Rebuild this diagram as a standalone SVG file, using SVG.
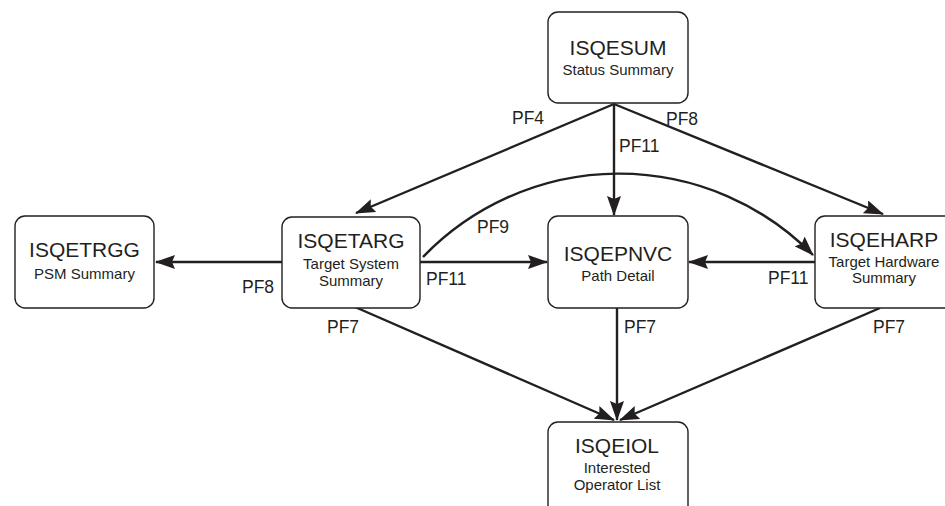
<svg xmlns="http://www.w3.org/2000/svg" width="945" height="506" viewBox="0 0 945 506">
<style>
.box{fill:#ffffff;stroke:#231f20;stroke-width:1.4}
.t{font-family:"Liberation Sans",Arial,sans-serif;fill:#231f20;text-anchor:middle}
.title{font-size:21px}
.sub{font-size:15px}
.lbl{font-family:"Liberation Sans",Arial,sans-serif;fill:#231f20;font-size:17.5px}
.c{fill:none;stroke:#231f20;stroke-width:2.4;marker-end:url(#ah)}
</style>
<defs>
<marker id="ah" viewBox="0 0 20 14" markerWidth="20" markerHeight="14" refX="19" refY="7" orient="auto" markerUnits="userSpaceOnUse">
<path d="M0,0 L20,7 L0,14 L3,7 z" fill="#231f20"/>
</marker>
</defs>
<rect width="945" height="506" fill="#ffffff"/>
<g id="connectors">
<path class="c" d="M614,104 L356,213"/>
<path class="c" d="M614,104 L614,215"/>
<path class="c" d="M614,104 L883,214"/>
<path class="c" d="M282,262 L156,262"/>
<path class="c" d="M420,262 L547,262"/>
<path class="c" d="M815,262 L689,262"/>
<path class="c" d="M423,257 A272,272 0 0 1 813,255"/>
<path class="c" d="M355,307 L614,420"/>
<path class="c" d="M617,308 L617,420"/>
<path class="c" d="M880,308 L620,420"/>
<text class="lbl" x="512" y="124">PF4</text>
<text class="lbl" x="619" y="152">PF11</text>
<text class="lbl" x="666" y="125">PF8</text>
<text class="lbl" x="242" y="293">PF8</text>
<text class="lbl" x="426" y="285">PF11</text>
<text class="lbl" x="477" y="233">PF9</text>
<text class="lbl" x="768" y="284">PF11</text>
<text class="lbl" x="327" y="333">PF7</text>
<text class="lbl" x="624" y="333">PF7</text>
<text class="lbl" x="873" y="333">PF7</text>
</g>
<g id="ISQESUM">
<rect class="box" x="548" y="12" width="140" height="91" rx="10"/>
<text class="t title" x="618" y="55">ISQESUM</text>
<text class="t sub" x="618" y="75">Status Summary</text>
</g>
<g id="ISQETRGG">
<rect class="box" x="15" y="216" width="139" height="92" rx="10"/>
<text class="t title" x="84.5" y="257">ISQETRGG</text>
<text class="t sub" x="84.5" y="279">PSM Summary</text>
</g>
<g id="ISQETARG">
<rect class="box" x="282" y="217" width="138" height="91" rx="10"/>
<text class="t title" x="351" y="248">ISQETARG</text>
<text class="t sub" x="351" y="269">Target System</text>
<text class="t sub" x="351" y="286">Summary</text>
</g>
<g id="ISQEPNVC">
<rect class="box" x="548" y="216" width="140" height="92" rx="10"/>
<text class="t title" x="618" y="261">ISQEPNVC</text>
<text class="t sub" x="618" y="281">Path Detail</text>
</g>
<g id="ISQEHARP">
<rect class="box" x="815" y="216" width="140" height="92" rx="10"/>
<text class="t title" x="884" y="247">ISQEHARP</text>
<text class="t sub" x="884" y="267">Target Hardware</text>
<text class="t sub" x="884" y="283">Summary</text>
</g>
<g id="ISQEIOL">
<rect class="box" x="548" y="422" width="140" height="100" rx="10"/>
<text class="t title" x="617" y="453">ISQEIOL</text>
<text class="t sub" x="617" y="473">Interested</text>
<text class="t sub" x="617" y="490">Operator List</text>
</g>
</svg>
